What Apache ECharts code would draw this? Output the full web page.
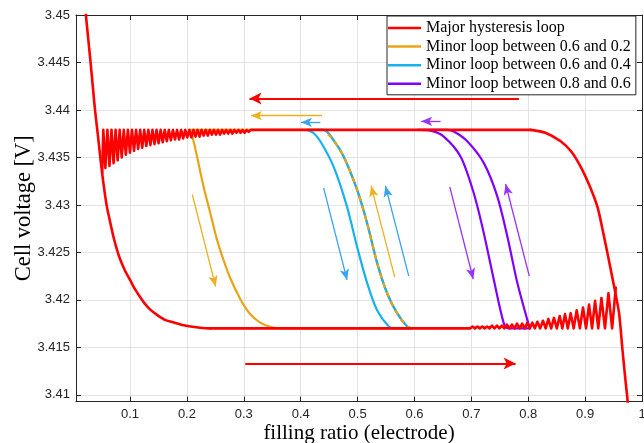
<!DOCTYPE html>
<html>
<head>
<meta charset="utf-8">
<script src="https://cdn.jsdelivr.net/npm/echarts@6/dist/echarts.min.js"></script>
<style>
  html, body { margin: 0; padding: 0; background: #fff; }
  #chart { width: 644px; height: 443px; }
</style>
</head>
<body>
<div id="chart"></div>
<script>
// Axis ticks
const xTicks = [0.1, 0.2, 0.3, 0.4, 0.5, 0.6, 0.7, 0.8, 0.9, 1];
const yTicks = [3.41, 3.415, 3.42, 3.425, 3.43, 3.435, 3.44, 3.445, 3.45];

// Major hysteresis loop: discharge descent on the left into the lower plateau
const majorDescent = [
  [0.0200, 3.4530], [0.0225, 3.4500], [0.0265, 3.4475], [0.0306, 3.4450],
  [0.0345, 3.4425], [0.0384, 3.4400], [0.0430, 3.4376], [0.0470, 3.4354],
  [0.0510, 3.4333], [0.0550, 3.4315], [0.0590, 3.4299], [0.0650, 3.4282],
  [0.0706, 3.4267], [0.0765, 3.4254], [0.0824, 3.4243], [0.0910, 3.4231],
  [0.1000, 3.4221], [0.1090, 3.4211], [0.1176, 3.4203], [0.1260, 3.4196],
  [0.1350, 3.4190], [0.1480, 3.4184], [0.1616, 3.4179], [0.1780, 3.4176],
  [0.1968, 3.4173], [0.2200, 3.4171], [0.2408, 3.4170]
];

// Lower plateau, with the ripple that grows towards full filling
const majorLower = [
  [0.2408, 3.4170], [0.6980, 3.4170],
  [0.7021, 3.4172], [0.7064, 3.4170], [0.7106, 3.4172], [0.7149, 3.4170],
  [0.7191, 3.4172], [0.7234, 3.4170], [0.7277, 3.4172], [0.7320, 3.4170],
  [0.7363, 3.4173], [0.7407, 3.4170], [0.7450, 3.4173], [0.7494, 3.4170],
  [0.7537, 3.4173], [0.7581, 3.4170], [0.7625, 3.4174], [0.7670, 3.4170],
  [0.7714, 3.4174], [0.7759, 3.4170], [0.7803, 3.4175], [0.7848, 3.4170],
  [0.7893, 3.4175], [0.7939, 3.4170], [0.7984, 3.4176], [0.8028, 3.4170],
  [0.8072, 3.4176], [0.8116, 3.4170], [0.8160, 3.4177], [0.8210, 3.4170],
  [0.8259, 3.4178], [0.8307, 3.4170], [0.8354, 3.4180], [0.8403, 3.4170],
  [0.8452, 3.4181], [0.8503, 3.4170], [0.8553, 3.4183], [0.8600, 3.4170],
  [0.8646, 3.4185], [0.8696, 3.4170], [0.8746, 3.4186], [0.8799, 3.4170],
  [0.8852, 3.4189], [0.8908, 3.4170], [0.8963, 3.4192], [0.9016, 3.4170],
  [0.9069, 3.4195], [0.9122, 3.4170], [0.9175, 3.4199], [0.9231, 3.4170],
  [0.9287, 3.4202], [0.9349, 3.4170], [0.9410, 3.4207], [0.9475, 3.4170],
  [0.9539, 3.4213]
];

// Right-hand bend of the upper branch
const majorBend = [
  [0.9760, 3.4080], [0.9745, 3.4095], [0.9715, 3.4112], [0.9657, 3.4147],
  [0.9597, 3.4186], [0.9510, 3.4214], [0.9393, 3.4249], [0.9300, 3.4276],
  [0.9217, 3.4298], [0.9080, 3.4320], [0.8923, 3.4340], [0.8760, 3.4356],
  [0.8570, 3.4367], [0.8300, 3.4376], [0.8042, 3.4379]
];

// Upper plateau, ripple growing towards low filling
const majorUpper = [
  [0.8042, 3.4379], [0.3122, 3.4379],
  [0.3086, 3.4377], [0.3050, 3.4379], [0.3014, 3.4376], [0.2978, 3.4379],
  [0.2942, 3.4376], [0.2906, 3.4379], [0.2870, 3.4376], [0.2834, 3.4379],
  [0.2798, 3.4375], [0.2762, 3.4379], [0.2726, 3.4375], [0.2690, 3.4379],
  [0.2654, 3.4375], [0.2618, 3.4379], [0.2582, 3.4374], [0.2546, 3.4379],
  [0.2510, 3.4374], [0.2474, 3.4379], [0.2438, 3.4374], [0.2402, 3.4379],
  [0.2366, 3.4373], [0.2330, 3.4379], [0.2294, 3.4373], [0.2258, 3.4379],
  [0.2222, 3.4372], [0.2186, 3.4379], [0.2150, 3.4372], [0.2114, 3.4379],
  [0.2078, 3.4371], [0.2042, 3.4379], [0.2006, 3.4371], [0.1970, 3.4379],
  [0.1934, 3.4370], [0.1898, 3.4379], [0.1862, 3.4369], [0.1826, 3.4379],
  [0.1790, 3.4369], [0.1754, 3.4379], [0.1718, 3.4368], [0.1682, 3.4379],
  [0.1646, 3.4367], [0.1610, 3.4379], [0.1574, 3.4366], [0.1538, 3.4379],
  [0.1502, 3.4365], [0.1466, 3.4379], [0.1430, 3.4364], [0.1394, 3.4379],
  [0.1358, 3.4363], [0.1322, 3.4379], [0.1286, 3.4362], [0.1250, 3.4379],
  [0.1214, 3.4360], [0.1178, 3.4379], [0.1142, 3.4359], [0.1106, 3.4379],
  [0.1070, 3.4357], [0.1034, 3.4379], [0.0998, 3.4355], [0.0962, 3.4379],
  [0.0926, 3.4353], [0.0890, 3.4379], [0.0854, 3.4350], [0.0818, 3.4379],
  [0.0782, 3.4347], [0.0746, 3.4379], [0.0710, 3.4344], [0.0674, 3.4379],
  [0.0638, 3.4341], [0.0602, 3.4379], [0.0566, 3.4339], [0.0530, 3.4379],
  [0.0510, 3.4333]
];

// Minor loop 0.6 <-> 0.2
const orangeDown = [
  [0.2050, 3.4379], [0.2100, 3.4371], [0.2174, 3.4352], [0.2290, 3.4320],
  [0.2408, 3.4292], [0.2526, 3.4264], [0.2643, 3.4242], [0.2761, 3.4223],
  [0.2937, 3.4201], [0.3100, 3.4186], [0.3289, 3.4176], [0.3500, 3.4171],
  [0.3650, 3.4170]
];
// Charge branch shared by the 0.6/0.2 and 0.6/0.4 loops
const sharedUp = [
  [0.5950, 3.4170], [0.5871, 3.4172], [0.5695, 3.4186], [0.5519, 3.4207],
  [0.5343, 3.4239], [0.5167, 3.4281], [0.4991, 3.4316], [0.4755, 3.4351],
  [0.4580, 3.4368], [0.4400, 3.4379]
];
// Minor loop 0.6 <-> 0.4
const cyanDown = [
  [0.4111, 3.4379], [0.4220, 3.4376], [0.4345, 3.4367], [0.4580, 3.4340],
  [0.4815, 3.4298], [0.4991, 3.4256], [0.5167, 3.4218], [0.5343, 3.4189],
  [0.5548, 3.4172], [0.5650, 3.4170]
];
// Minor loop 0.8 <-> 0.6
const purpleDown = [
  [0.6048, 3.4379], [0.6300, 3.4378], [0.6516, 3.4372], [0.6810, 3.4351],
  [0.7044, 3.4312], [0.7220, 3.4270], [0.7396, 3.4221], [0.7572, 3.4175],
  [0.7650, 3.4170]
];
const purpleUp = [
  [0.8030, 3.4170], [0.7984, 3.4179], [0.7808, 3.4218], [0.7632, 3.4267],
  [0.7456, 3.4309], [0.7220, 3.4344], [0.6928, 3.4367], [0.6700, 3.4377],
  [0.6576, 3.4379]
];

// Direction arrows: [xFrom, vFrom, xTo, vTo]
const redArrows = [[0.7836, 3.4412, 0.3100, 3.4412], [0.3025, 3.4133, 0.7778, 3.4133]];
const orangeArrows = [[0.4375, 3.4394, 0.3125, 3.4394], [0.2095, 3.4311, 0.2505, 3.4214], [0.5653, 3.4224, 0.5238, 3.4320]];
const cyanArrows = [[0.4345, 3.4387, 0.4005, 3.4387], [0.4403, 3.4318, 0.4815, 3.4221], [0.5900, 3.4225, 0.5490, 3.4320]];
const purpleArrows = [[0.6458, 3.4388, 0.6118, 3.4388], [0.6621, 3.4319, 0.7033, 3.4222], [0.8019, 3.4225, 0.7602, 3.4322]];

const names = [
  'Major hysteresis loop',
  'Minor loop between 0.6 and 0.2',
  'Minor loop between 0.6 and 0.4',
  'Minor loop between 0.8 and 0.6'
];

const C = { red: '#FF0000', orange: '#E8A317', cyan: '#17B2EE', purple: '#8000FF' };
const A = { red: '#FF0000', orange: '#EDB120', cyan: '#3AA2F2', purple: '#9933FF' };

function arrows(list, color, width, head) {
  return {
    silent: true,
    animation: false,
    symbol: ['none', 'arrow'],
    symbolSize: head,
    label: { show: false },
    emphasis: { disabled: true },
    lineStyle: { color: color, width: width, type: 'solid', opacity: 1 },
    data: list.map(a => [{ coord: [a[0], a[1]] }, { coord: [a[2], a[3]] }])
  };
}

function line(name, data, color, width, opts) {
  return Object.assign({
    type: 'line', name: name, data: data, showSymbol: false, symbol: 'none',
    color: color, itemStyle: { color: color },
    lineStyle: { color: color, width: width, join: 'round', cap: 'round' },
    silent: true, clip: true, z: 2
  }, opts || {});
}

const series = [
  line(names[1], orangeDown.concat(sharedUp).concat([[0.2050, 3.4379]]), C.orange, 2.2,
       { smooth: 0.3, markLine: arrows(orangeArrows, A.orange, 1.3, [7, 11]) }),
  line(names[2], cyanDown.concat(sharedUp).concat([[0.4111, 3.4379]]), C.cyan, 2.2,
       { smooth: 0.3, markLine: arrows(cyanArrows, A.cyan, 1.3, [7, 11]) }),
  line('orange-return', sharedUp, C.orange, 2.2,
       { smooth: 0.3, lineStyle: { color: C.orange, width: 2.2, type: [5, 5] } }),
  line(names[3], purpleDown.concat(purpleUp).concat([[0.6048, 3.4379]]), C.purple, 2.2,
       { smooth: 0.3, markLine: arrows(purpleArrows, A.purple, 1.3, [7, 11]) }),
  line(names[0], majorDescent, C.red, 2.6,
       { smooth: 0.2, z: 3, markLine: arrows(redArrows, A.red, 2, [9, 12]) }),
  line('major-lower', majorLower, C.red, 2.6, { z: 3 }),
  line('major-bend', majorBend, C.red, 2.6, { smooth: 0.25, z: 3 }),
  line('major-upper', majorUpper, C.red, 2.6, { z: 3 })
];

const axisColor = '#262626';
const tickFont = { color: axisColor, fontSize: 13, fontFamily: 'Liberation Sans' };
const nameFont = { color: '#000', fontSize: 21, fontFamily: 'Liberation Serif' };
const fmt = v => String(+Number(v).toFixed(4));

const chart = echarts.init(document.getElementById('chart'), null, { renderer: 'canvas' });
chart.setOption({
  animation: false,
  backgroundColor: '#fff',
  grid: { left: 76, right: 2, top: 15, bottom: 41.5, containLabel: false, outerBoundsMode: 'none' },
  legend: {
    data: names,
    orient: 'vertical',
    left: 387, top: 16,
    padding: [3, 5, 2, 1],
    itemWidth: 33, itemHeight: 2.5, itemGap: 0.6,
    icon: 'rect',
    selectedMode: false,
    backgroundColor: '#fff',
    borderColor: axisColor, borderWidth: 1, borderRadius: 0,
    textStyle: { fontFamily: 'Liberation Serif', fontSize: 16, color: '#000', lineHeight: 18 }
  },
  xAxis: [{
    type: 'value', min: 0.005, max: 1, position: 'bottom',
    name: 'filling ratio (electrode)', nameLocation: 'middle', nameGap: 21, nameTextStyle: nameFont,
    nameMoveOverlap: false,
    axisLine: { show: true, onZero: false, lineStyle: { color: axisColor, width: 1 } },
    axisTick: { show: true, inside: true, length: 5, customValues: xTicks, lineStyle: { color: axisColor } },
    axisLabel: Object.assign({ customValues: xTicks, margin: 6, formatter: fmt }, tickFont),
    splitLine: { show: true, lineStyle: { color: '#E3E3E3', width: 1 } }
  }, {
    type: 'value', min: 0.005, max: 1, position: 'top',
    axisLine: { show: true, onZero: false, lineStyle: { color: axisColor, width: 1 } },
    axisTick: { show: true, inside: true, length: 5, customValues: xTicks, lineStyle: { color: axisColor } },
    axisLabel: { show: false },
    splitLine: { show: false }
  }],
  yAxis: [{
    type: 'value', min: 3.4093, max: 3.45, position: 'left',
    name: 'Cell voltage [V]', nameLocation: 'middle', nameGap: 40, nameRotate: 90,
    nameMoveOverlap: false,
    nameTextStyle: Object.assign({}, nameFont, { fontSize: 22.5 }),
    axisLine: { show: true, onZero: false, lineStyle: { color: axisColor, width: 1 } },
    axisTick: { show: true, inside: true, length: 5, customValues: yTicks, lineStyle: { color: axisColor } },
    axisLabel: Object.assign({ customValues: yTicks, margin: 6, formatter: fmt }, tickFont),
    splitLine: { show: true, lineStyle: { color: '#E3E3E3', width: 1 } }
  }, {
    type: 'value', min: 3.4093, max: 3.45, position: 'right',
    axisLine: { show: true, onZero: false, lineStyle: { color: axisColor, width: 1 } },
    axisTick: { show: true, inside: true, length: 5, customValues: yTicks, lineStyle: { color: axisColor } },
    axisLabel: { show: false },
    splitLine: { show: false }
  }],
  series: series
});
</script>
</body>
</html>
